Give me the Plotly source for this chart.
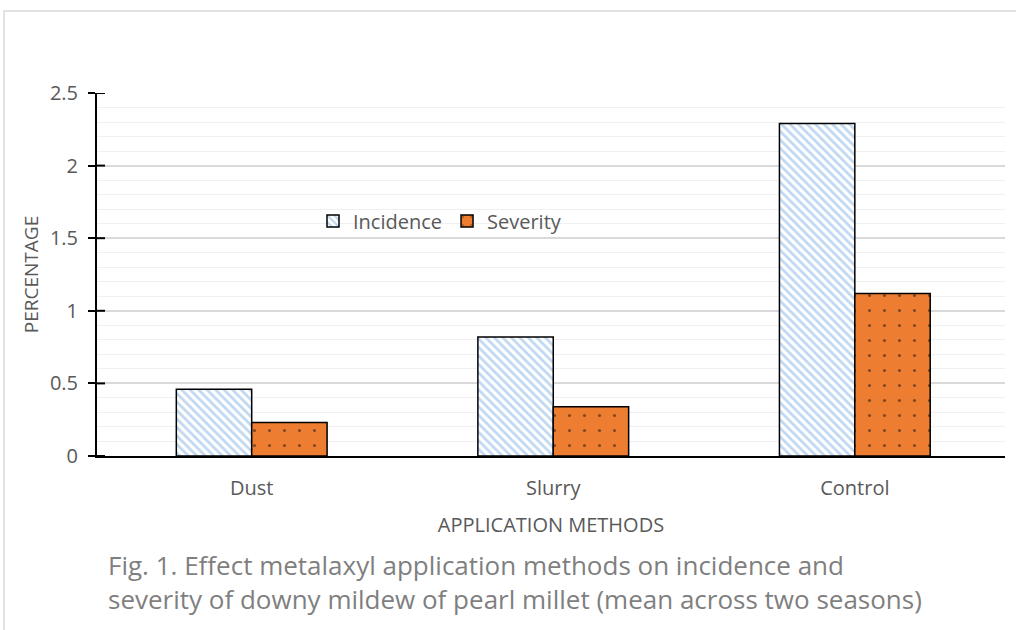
import plotly.graph_objects as go

categories = ["Dust", "Slurry", "Control"]
incidence = [0.46, 0.82, 2.29]
severity = [0.23, 0.34, 1.12]
y_ticks = [0, 0.5, 1, 1.5, 2, 2.5]
y_tick_labels = ["0", "0.5", "1", "1.5", "2", "2.5"]

W, H = 1016, 630
L, R, T, B = 97, 11, 93, 174
pw, ph = W - L - R, H - T - B

def px_x(px):
    return (px - L) / pw

def px_y(py):
    return (H - B - py) / ph

FONT = "Open Sans"
GRAY = "#595959"

fig = go.Figure()
fig.add_trace(go.Bar(
    x=categories, y=incidence, name="Incidence",
    marker=dict(color="white", line=dict(color="black", width=1.5),
                pattern=dict(shape="\\", fgcolor="#7FB0E2", bgcolor="white",
                             size=6, solidity=0.45)),
))
fig.add_trace(go.Bar(
    x=categories, y=severity, name="Severity",
    marker=dict(color="#ED7D31", line=dict(color="black", width=1.5),
                pattern=dict(shape=".", fgcolor="#111111", bgcolor="#ED7D31",
                             size=15, solidity=0.035)),
))

# inner halves of the y-axis tick marks (ticks cross the axis line)
tick_shapes = [dict(type="line", xref="paper", yref="y", x0=0, x1=8 / pw, y0=v, y1=v,
                    line=dict(color="black", width=2), layer="above") for v in y_ticks]

fig.update_layout(
    width=W, height=H,
    margin=dict(l=L, r=R, t=T, b=B),
    paper_bgcolor="white", plot_bgcolor="white",
    barmode="group", bargap=0.5, bargroupgap=0,
    font=dict(family=FONT, color=GRAY),
    showlegend=True,
    legend=dict(orientation="h", x=px_x(313), y=px_y(221), xanchor="left", yanchor="middle",
                bgcolor="rgba(0,0,0,0)", font=dict(size=20, color=GRAY),
                itemwidth=30, traceorder="normal"),
    xaxis=dict(showline=True, linecolor="black", linewidth=2, ticks="",
               range=[-0.513, 2.498],
               tickfont=dict(size=20, color=GRAY), ticklabelstandoff=13,
               title=dict(text="APPLICATION METHODS", font=dict(size=20, color=GRAY), standoff=18)),
    yaxis=dict(range=[0, 2.5], tickvals=y_ticks, ticktext=y_tick_labels,
               showline=True, linecolor="black", linewidth=2,
               ticks="outside", ticklen=7, tickwidth=2, tickcolor="black",
               tickfont=dict(size=20, color=GRAY), ticklabelstandoff=6,
               showgrid=True, gridcolor="#D9D9D9", gridwidth=1.5,
               minor=dict(dtick=0.1, showgrid=True, gridcolor="#F0F0F0", gridwidth=1, ticks=""),
               zeroline=False,
               title=dict(text="PERCENTAGE", font=dict(size=19, color=GRAY), standoff=6)),
    shapes=[dict(type="rect", xref="paper", yref="paper",
                 x0=px_x(4), x1=px_x(1030), y0=px_y(660), y1=px_y(11),
                 line=dict(color="#D9D9D9", width=1.5), fillcolor="rgba(0,0,0,0)", layer="below")]
           + tick_shapes,
    annotations=[dict(
        text="Fig. 1. Effect metalaxyl application methods on incidence and<br>severity of downy mildew of pearl millet (mean across two seasons)",
        xref="paper", yref="paper", x=px_x(106), y=px_y(545), xanchor="left", yanchor="top",
        align="left", showarrow=False, font=dict(size=26, color="#7F7F7F", family=FONT))],
)

fig.write_html("out.html", config={"displayModeBar": False},
               post_script="document.body.style.margin='0';")
